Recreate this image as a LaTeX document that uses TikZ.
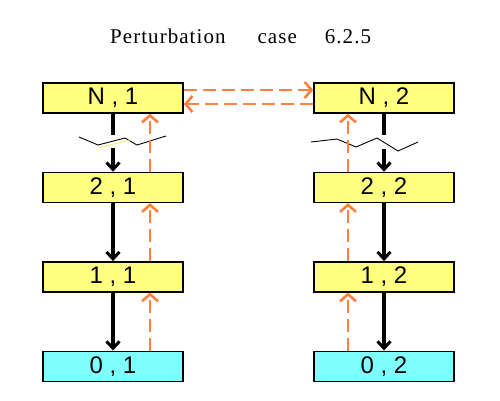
\documentclass[tikz,border=0pt]{standalone}
\usepackage{fontspec}
\setmainfont{Liberation Serif}
\setsansfont{Liberation Sans}
\usetikzlibrary{arrows.meta,positioning}
\definecolor{StageYellow}{HTML}{FFFF80}
\definecolor{BaseCyan}{HTML}{80FFFF}
\definecolor{PertOrange}{HTML}{FF8040}
\definecolor{BreakYellow}{HTML}{F0F060}

\begin{document}
\begin{tikzpicture}[x=1pt, y=-1pt, node distance=58pt,
  stage/.style={draw=black, line width=1.4pt, fill=StageYellow,
                minimum width=140pt, minimum height=30pt, inner sep=0pt,
                font=\sffamily\fontsize{24}{24}\selectfont},
  base/.style={stage, fill=BaseCyan},
  down/.style={-{Straight Barb[length=7pt,width=13pt,line width=3pt]}, line width=4pt},
  back/.style={-{Straight Barb[length=7pt,width=16pt,line width=2.6pt]}, draw=PertOrange,
               line width=2.8pt, dash pattern=on 13pt off 6pt},
  brk/.style={line width=0.9pt}]
  \useasboundingbox (0,0) rectangle (500,400);

  % title
  \node[anchor=base west, inner sep=0pt,
        font=\rmfamily\fontsize{21}{21}\selectfont\addfontfeature{LetterSpace=5}] (title) at (110,43)
    {Perturbation\hspace{32pt}case\hspace{28pt}6.2.5};

  % left column
  \node[stage] (n1) at (113,98) {N , 1};
  \node[stage, below=of n1] (s1) {2 , 1};
  \node[stage, below=of s1] (f1) {1 , 1};
  \node[base, below=of f1] (z1) {0 , 1};

  % right column
  \node[stage] (n2) at (384,98) {N , 2};
  \node[stage, below=of n2] (s2) {2 , 2};
  \node[stage, below=of s2] (f2) {1 , 2};
  \node[base, below=of f2] (z2) {0 , 2};

  % break marks
  \coordinate (cutA1) at (113,135);
  \coordinate (cutB1) at (113,148);
  \coordinate (cutA2) at (384,135);
  \coordinate (cutB2) at (384,149);
  \draw[brk] (79,137) -- (98,145) -- (125,138) -- (137,145) -- (166,136);
  \draw[draw=BreakYellow, line width=0.8pt] (98,148) -- (130,140);
  \draw[brk] (311,142) -- (337,139) -- (356,147) -- (377,138) -- (398,151) -- (418,142);

  % downward steps
  \draw[line width=4pt] (n1.south) -- (cutA1);
  \draw[down] (cutB1) -- (s1.north);
  \draw[down] (s1) -- (f1);
  \draw[down] (f1) -- (z1);
  \draw[line width=4pt] (n2.south) -- (cutA2);
  \draw[down] (cutB2) -- (s2.north);
  \draw[down] (s2) -- (f2);
  \draw[down] (f2) -- (z2);

  % perturbation going back up
  \draw[back] ([xshift=37pt]z1.north) -- ([xshift=37pt]f1.south);
  \draw[back] ([xshift=37pt]f1.north) -- ([xshift=37pt]s1.south);
  \draw[back] ([xshift=37pt]s1.north) -- ([xshift=37pt]n1.south);
  \draw[back] ([xshift=-36pt]z2.north) -- ([xshift=-36pt]f2.south);
  \draw[back] ([xshift=-36pt]f2.north) -- ([xshift=-36pt]s2.south);
  \draw[back] ([xshift=-36pt]s2.north) -- ([xshift=-36pt]n2.south);

  % exchange between the two N states
  \draw[back] ([yshift=8pt]n1.east) -- ([yshift=8pt]n2.west);
  \draw[back] ([yshift=-6pt]n2.west) -- ([yshift=-6pt]n1.east);
\end{tikzpicture}
\end{document}
